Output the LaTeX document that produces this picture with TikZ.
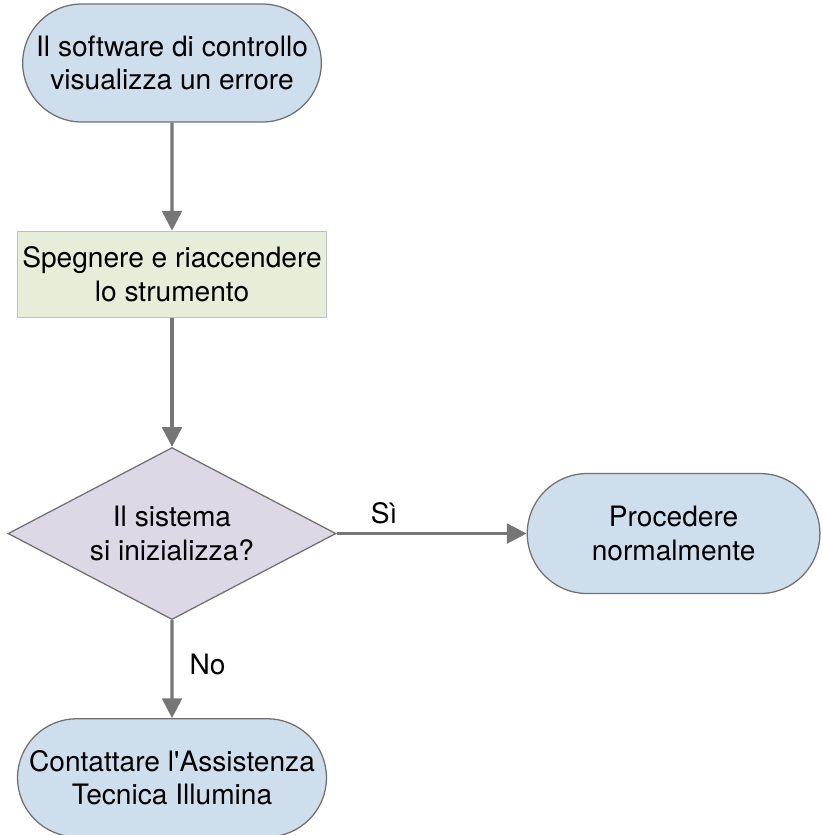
\documentclass[tikz,border=0pt]{standalone}
\usepackage{fontspec}
\setmainfont{TeX Gyre Heros}
\usepackage{xcolor}
\usetikzlibrary{shapes.geometric, shapes.misc, arrows.meta, positioning}

\definecolor{termblue}{RGB}{207,222,237}
\definecolor{stepgreen}{RGB}{230,237,217}
\definecolor{askpurple}{RGB}{221,216,229}
\definecolor{edgegray}{RGB}{112,112,112}
\definecolor{arrowgray}{RGB}{118,118,118}

\begin{document}
\begin{tikzpicture}[
    terminal/.style={draw=edgegray, line width=0.9pt, rounded rectangle, fill=termblue, minimum width=7.7cm, minimum height=2.95cm, align=center, font=\fontsize{20}{24}\selectfont},
    action/.style={draw=black!25, line width=0.9pt, rectangle, fill=stepgreen, minimum width=7.525cm, minimum height=2.15cm, align=center, font=\fontsize{20}{24}\selectfont},
    decision/.style={draw=edgegray, line width=0.9pt, diamond, aspect=1.9, inner sep=0pt, minimum width=8.2cm, minimum height=4.3cm, align=center, font=\fontsize{20}{24}\selectfont, fill=askpurple},
    arr/.style={-{Triangle[length=14pt, width=14pt]}, line width=2.2pt, draw=arrowgray, color=arrowgray},
    lbl/.style={font=\fontsize{20}{24}\selectfont, text=black},
]
\useasboundingbox (0,0) rectangle (20.55,-20.875);

\node[terminal] (err) at (4.3,-1.575) {Il software di controllo\\visualizza un errore};
\node[action, below=2.7cm of err] (restart) {Spegnere e riaccendere\\lo strumento};
\node[decision, below=3.225cm of restart] (init) {Il sistema\\si inizializza?};
\node[terminal, right=4.75cm of init, minimum width=7.55cm, minimum height=3cm] (goon) {Procedere\\normalmente};
\node[terminal, below=2.45cm of init, minimum width=7.6cm] (support) {Contattare l\textquotesingle Assistenza\\Tecnica Illumina};

\draw[arr] (err) -- (restart);
\draw[arr] (restart) -- (init);
\draw[arr] (init) -- node[lbl, above=2pt, pos=0.25] {Sì} (goon);
\draw[arr] (init) -- node[lbl, right=8pt, pos=0.45] {No} (support);

\end{tikzpicture}
\end{document}
